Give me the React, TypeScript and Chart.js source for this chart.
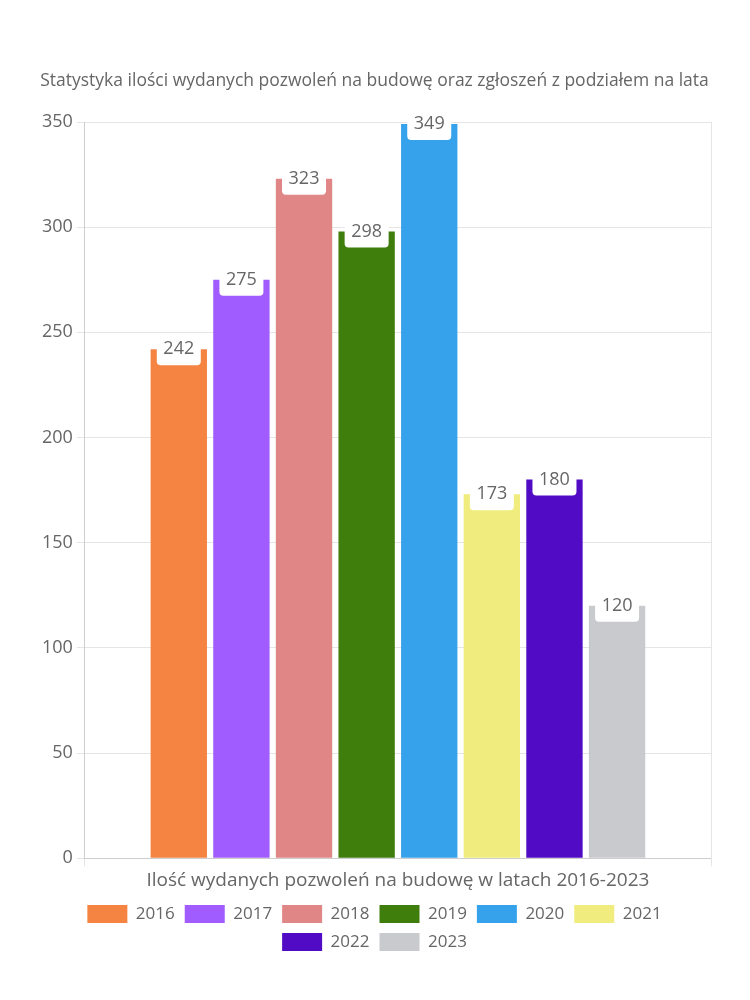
import React, { useEffect, useRef } from "react";
import { Chart, registerables } from "chart.js";

Chart.register(...registerables);

const categories = ["Ilość wydanych pozwoleń na budowę w latach 2016-2023"];
const years = ["2016", "2017", "2018", "2019", "2020", "2021", "2022", "2023"];
const values = [242, 275, 323, 298, 349, 173, 180, 120];
const colors = ["#F58442", "#A15CFF", "#E18686", "#3F7D0C", "#36A2EB", "#F0EC7D", "#520BC4", "#C9CACE"];
const yTicks = [0, 50, 100, 150, 200, 250, 300, 350];

const FONT = "'Open Sans', 'Noto Sans', sans-serif";

const labelPlugin = {
  id: "barLabels",
  afterDatasetsDraw(chart: any) {
    const ctx = chart.ctx;
    ctx.save();
    chart.data.datasets.forEach((ds: any, i: number) => {
      const meta = chart.getDatasetMeta(i);
      meta.data.forEach((el: any, j: number) => {
        const v = ds.data[j];
        const x = el.x;
        const y = el.y;
        const text = String(v);
        ctx.font = `18px ${FONT}`;
        const w = 44;
        const top = y - 14;
        const h = 30;
        ctx.fillStyle = "#ffffff";
        ctx.beginPath();
        ctx.roundRect(x - w / 2, top, w, h, 4);
        ctx.fill();
        ctx.fillStyle = "#666666";
        ctx.textAlign = "center";
        ctx.textBaseline = "middle";
        ctx.fillText(text, x, y);
      });
    });
    ctx.restore();
  },
};

export default function App() {
  const ref = useRef<HTMLCanvasElement>(null);
  useEffect(() => {
    if (!ref.current) return;
    const chart = new Chart(ref.current, {
      type: "bar",
      data: {
        labels: categories,
        datasets: years.map((y, i) => ({
          label: y,
          data: [values[i]],
          backgroundColor: colors[i],
          borderWidth: 0,
        })),
      },
      options: {
        animation: false,
        responsive: true,
        maintainAspectRatio: false,
        layout: { padding: { top: 63, right: 31, left: 30, bottom: 30 } },
        datasets: { bar: { barPercentage: 0.9, categoryPercentage: 0.8 } },
        plugins: {
          title: {
            display: true,
            text: "Statystyka ilości wydanych pozwoleń na budowę oraz zgłoszeń z podziałem na lata",
            color: "#666666",
            font: { family: FONT, size: 17.5, weight: "normal" },
            padding: { top: 0, bottom: 30 },
          },
          legend: {
            position: "bottom",
            labels: {
              color: "#666666",
              font: { family: FONT, size: 17 },
              boxWidth: 40,
              boxHeight: 18,
              padding: 10,
            },
          },
          tooltip: { enabled: false },
        },
        scales: {
          x: {
            grid: { color: "#e5e5e5", tickLength: 8 },
            ticks: { color: "#666666", font: { family: FONT, size: 19 } },
          },
          y: {
            min: 0,
            max: 350,
            afterBuildTicks: (axis: any) => {
              axis.ticks = yTicks.map((v) => ({ value: v }));
            },
            grid: { color: "#e5e5e5", tickLength: 8 },
            ticks: { color: "#666666", font: { family: FONT, size: 18 }, padding: 4 },
          },
        },
      },
      plugins: [labelPlugin],
    });
    return () => chart.destroy();
  }, []);
  return (
    <div style={{ width: 734, height: 983 }}>
      <canvas ref={ref} />
    </div>
  );
}
